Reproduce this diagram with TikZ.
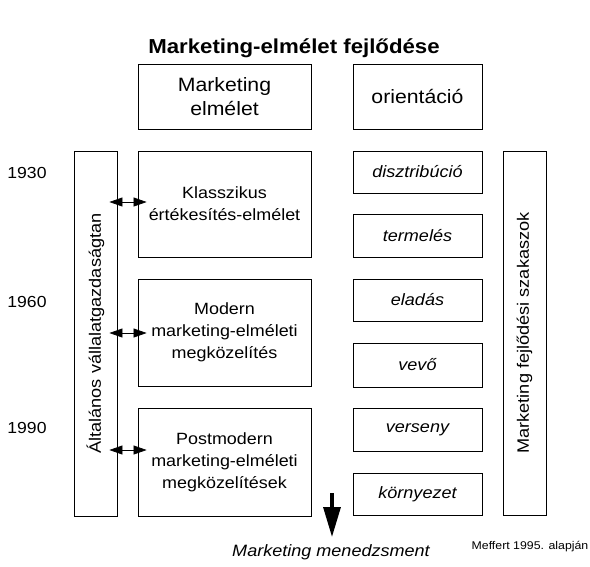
\documentclass[tikz,border=0pt]{standalone}
\usepackage{fontspec}
\setmainfont{Liberation Sans}[FakeStretch=1.1]
\usetikzlibrary{arrows.meta}
\begin{document}
\begin{tikzpicture}[x=1pt,y=-1pt,
  box/.style={draw, line width=0.8pt, inner sep=0pt, align=center,
    font=\fontsize{16.3}{22}\selectfont},
  headbox/.style={box, font=\fontsize{19.3}{24}\selectfont},
  orbox/.style={box, font=\fontsize{16.4}{20}\selectfont\itshape,
    minimum width=129, minimum height=43},
  sidebox/.style={box, rotate=90, font=\fontsize{16.5}{20}\selectfont,
    minimum height=43},
  year/.style={font=\fontsize{16}{20}\selectfont},
  link/.style={line width=0.7pt,
    {Triangle[length=13pt,width=9pt]}-{Triangle[length=13pt,width=9pt]},
    shorten <=-8pt, shorten >=-9pt},
  bigarrow/.style={line width=3.3pt, -{Triangle[length=30pt,width=17pt]}}]
\useasboundingbox (0,0) rectangle (590,566);

% title
\node[font=\fontsize{20.2}{24}\selectfont\bfseries] (title) at (294,48) {Marketing-elmélet fejlődése};

% column headings
\node[headbox, minimum width=173, minimum height=65] (hth) at (224.5,96.5) {Marketing\\elmélet};
\node[headbox, minimum width=129, minimum height=65] (hor) at (417.5,96.5) {orientáció};

% side bars
\node[sidebox, minimum width=365] (gen) at (95.5,333.5) {Általános vállalatgazdaságtan};
\node[sidebox, minimum width=364] (phs) at (524.5,333) {Marketing fejlődési szakaszok};

% theory boxes
\node[box, minimum width=173, minimum height=106] (cls) at (224.5,204) {Klasszikus\\értékesítés-elmélet};
\node[box, minimum width=173, minimum height=107] (mod) at (224.5,332.5) {Modern\\marketing-elméleti\\megközelítés};
\node[box, minimum width=173, minimum height=108] (pmd) at (224.5,462) {Postmodern\\marketing-elméleti\\megközelítések};

% orientation boxes
\node[orbox, minimum height=42] (o1) at (417.5,172) {disztribúció};
\node[orbox] (o2) at (417.5,235.5) {termelés};
\node[orbox, minimum height=42] (o3) at (417.5,300) {eladás};
\node[orbox, minimum height=44] (o4) at (417.5,365) {vevő};
\node[orbox] (o5) at (417.5,429.5) {verseny};
\node[orbox, minimum height=42] (o6) at (417.5,494) {környezet};

% years
\node[year] (y1) at (27,173) {1930};
\node[year] (y2) at (27,302) {1960};
\node[year] (y3) at (27,428) {1990};

% links between the general bar and the theory boxes
\draw[link] (gen.south |- 0,202) -- (cls.west |- 0,202);
\draw[link] (gen.south |- 0,333) -- (mod.west |- 0,333);
\draw[link] (gen.south |- 0,450) -- (pmd.west |- 0,450);

% outcome arrow
\coordinate (a0) at (332,493);
\coordinate (a1) at (332,537);
\draw[bigarrow] (a0) -- (a1);
\node[font=\fontsize{16.4}{20}\selectfont\itshape] (mm) at (331,552) {Marketing menedzsment};
\node[font=\fontsize{11.2}{14}\selectfont] (src) at (530,547) {Meffert 1995. alapján};
\end{tikzpicture}
\end{document}
